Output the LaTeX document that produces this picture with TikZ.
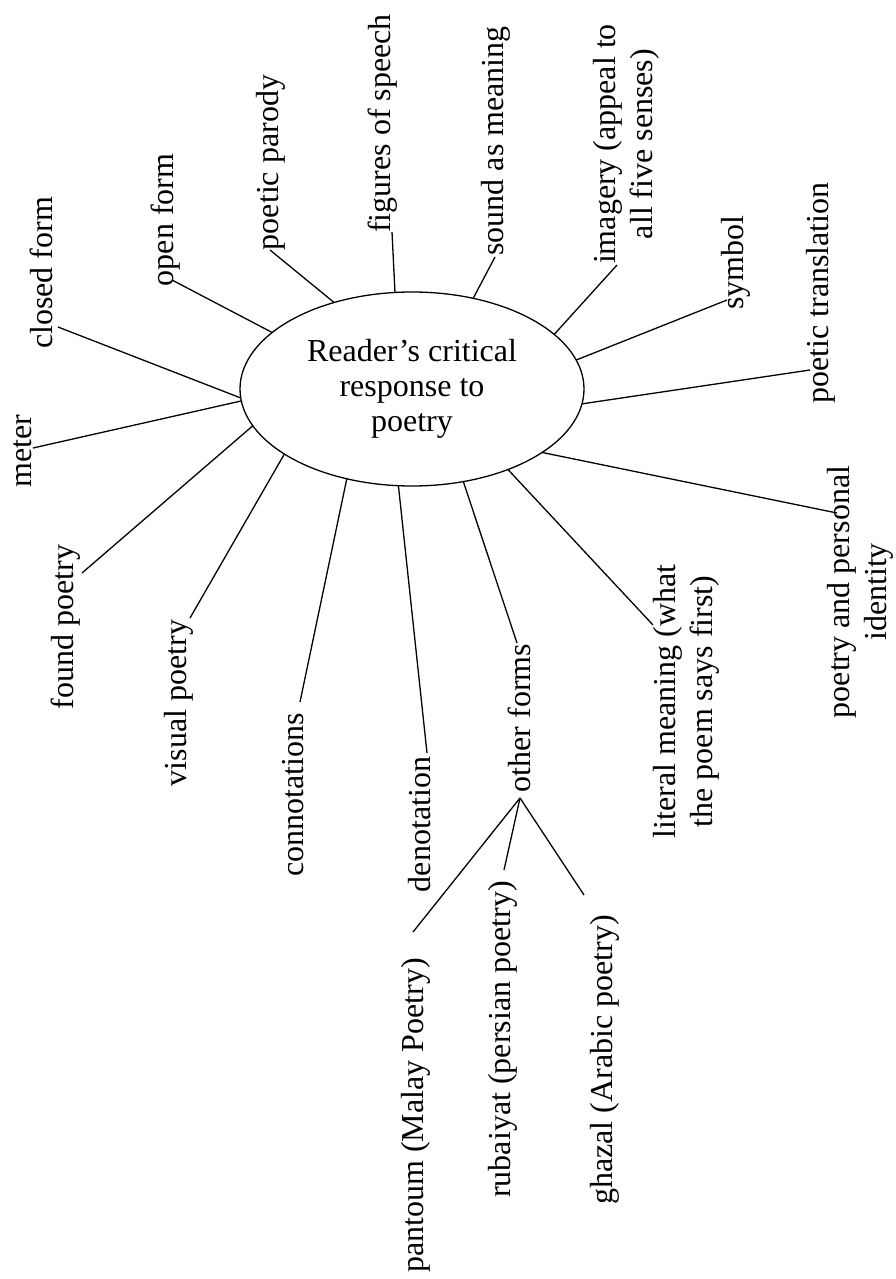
\documentclass[tikz,border=0pt]{standalone}
\usepackage{fontspec}
\setmainfont{Liberation Serif}
\usetikzlibrary{shapes.geometric}
\begin{document}
\begin{tikzpicture}[x=1pt, y=-1pt,
  hub/.style={ellipse, draw, line width=1.3pt, minimum width=344pt,
    minimum height=194pt, inner sep=0pt, outer sep=0pt, align=center,
    font=\fontsize{32}{35}\selectfont},
  leaf/.style={rotate=90, inner sep=0pt, outer sep=0pt, anchor=base,
    text height=22pt, text depth=7pt, font=\fontsize{32}{37}\selectfont},
  leaftwo/.style={rotate=90, inner sep=0pt, outer sep=0pt, anchor=center,
    align=center, font=\fontsize{32}{37}\selectfont},
  spoke/.style={line width=1.3pt}]

% page
\fill[white] (0,0) rectangle (895,1279);
\useasboundingbox (0,0) rectangle (895,1279);

% central topic
\node[hub] (c) at (412,389) {Reader’s critical\\response to\\poetry};

% surrounding topics, written bottom to top
\node[leaf] (closed)   at (52,273)     {closed form};
\node[leaf] (meter)    at (31,451)     {meter};
\node[leaf] (open)     at (173,220)    {open form};
\node[leaf] (parody)   at (278,162.5)  {poetic parody};
\node[leaf] (figures)  at (390,123.5)  {figures of speech};
\node[leaf] (sound)    at (503,141)    {sound as meaning};
\node[leaftwo] (imagery) at (626.5,144) {imagery (appeal to\\all five senses)};
\node[leaf] (symbol)   at (743,262.5)  {symbol};
\node[leaf] (transl)   at (828,293)    {poetic translation};
\node[leaftwo] (identity) at (860,592) {poetry and personal\\identity};
\node[leaftwo] (literal) at (686,701.5) {literal meaning (what\\the poem says first)};
\node[leaf] (other)    at (530,718)    {other forms};
\node[leaf] (denot)    at (430,824.5)  {denotation};
\node[leaf] (connot)   at (303,795)    {connotations};
\node[leaf] (visual)   at (186,703)    {visual poetry};
\node[leaf] (found)    at (73,627)     {found poetry};

% forms from other traditions
\node[leaf] (pantoum)  at (423,1115.5) {pantoum (Malay Poetry)};
\node[leaf] (rubaiyat) at (510,1039.5) {rubaiyat (persian poetry)};
\node[leaf] (ghazal)   at (612,1060)   {ghazal (Arabic poetry)};

% spokes from each topic to the centre
\draw[spoke] ([xshift=6pt,yshift=-54pt]closed.base)      -- (c.183.8);
\draw[spoke] ([xshift=2pt,yshift=3pt]meter.base)         -- (c.184.4);
\draw[spoke] ([xshift=-1pt,yshift=-60pt]open.base)       -- (c.158.8);
\draw[spoke] ([xshift=-8pt,yshift=-87.5pt]parody.base)   -- (c.132.6);
\draw[spoke] ([xshift=2pt,yshift=-108.5pt]figures.base)  -- (c.100.5);
\draw[spoke] ([xshift=-8pt,yshift=-116pt]sound.base)     -- (c.56.9);
\draw[spoke] ([xshift=-9.5pt,yshift=-121pt]imagery.center) -- (c.21.7);
\draw[spoke] ([xshift=-16pt,yshift=-37.5pt]symbol.base)  -- (c.10.8);
\draw[spoke] ([xshift=-18pt,yshift=-77pt]transl.base)    -- (c.355.7);
\draw[spoke] ([xshift=-23pt,yshift=79pt]identity.center) -- (c.334.5);
\draw[spoke] ([xshift=-33pt,yshift=76.5pt]literal.center) -- (c.320.4);
\draw[spoke] ([xshift=-13pt,yshift=75pt]other.base)      -- (c.299.7);
\draw[spoke] ([xshift=-3pt,yshift=71.5pt]denot.base)     -- (c.262.1);
\draw[spoke] ([xshift=-3pt,yshift=93pt]connot.base)      -- (c.234.2);
\draw[spoke] ([xshift=4pt,yshift=85pt]visual.base)       -- (c.207.7);
\draw[spoke] ([xshift=9pt,yshift=54pt]found.base)        -- (c.193.8);

% branches under "other forms"
\coordinate (fork) at ([xshift=-10pt,yshift=-80pt]other.base);
\draw[spoke] (fork) -- ([xshift=-10pt,yshift=183.5pt]pantoum.base);
\draw[spoke] (fork) -- ([xshift=-6pt,yshift=169.5pt]rubaiyat.base);
\draw[spoke] (fork) -- ([xshift=-28pt,yshift=165pt]ghazal.base);
\end{tikzpicture}
\end{document}
